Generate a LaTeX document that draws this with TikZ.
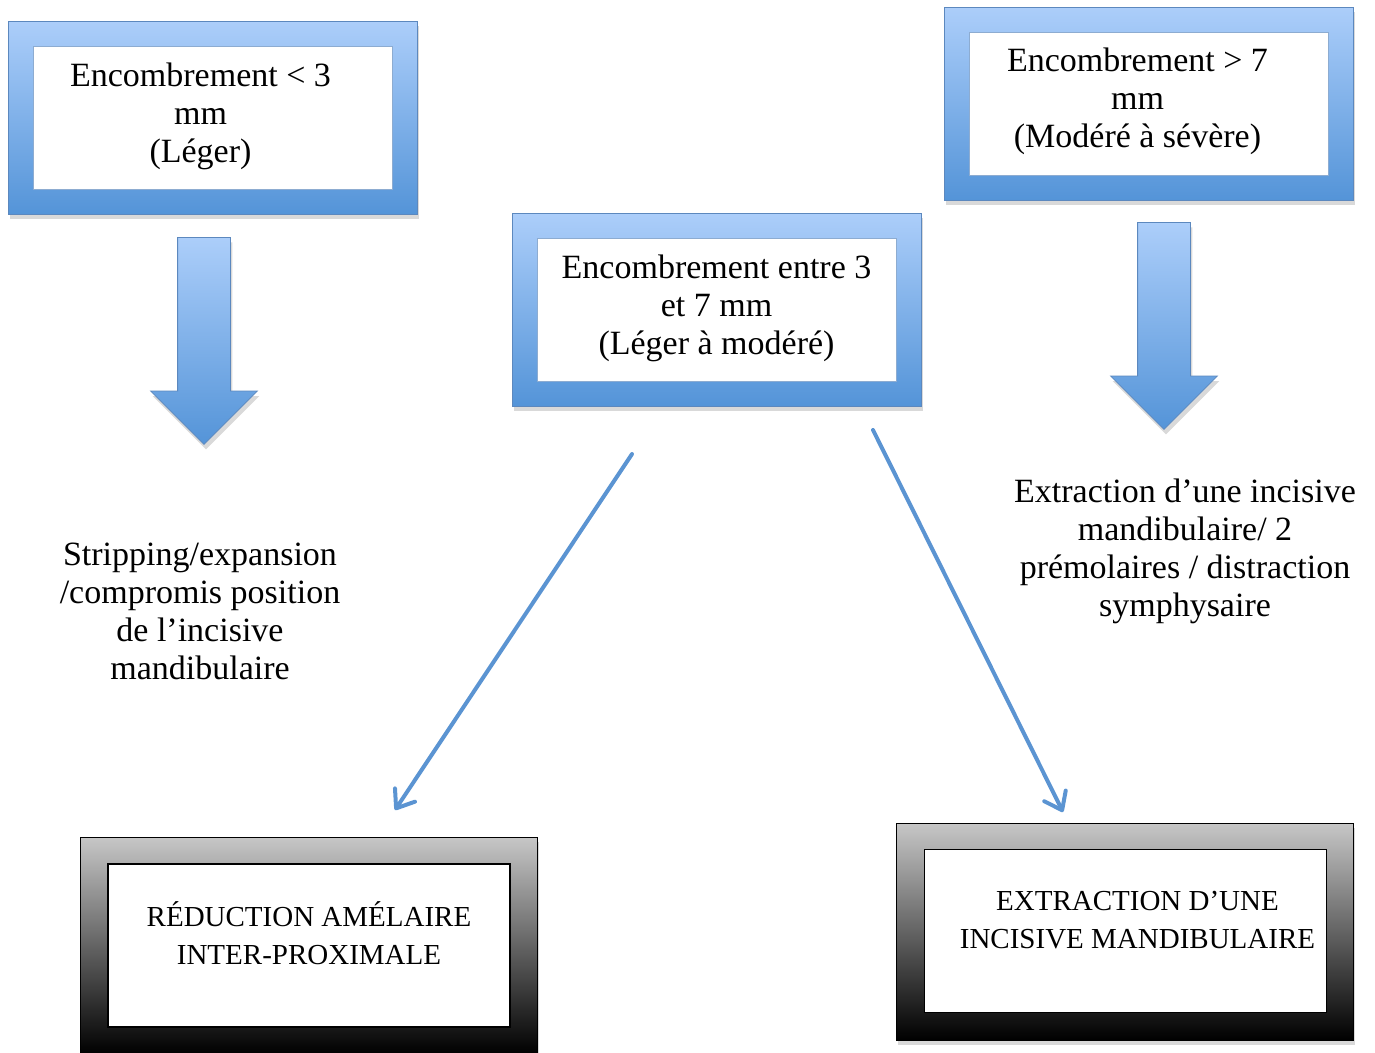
\documentclass[tikz,border=0pt]{standalone}
\usepackage{fontspec}
\setmainfont{Liberation Serif}
\usetikzlibrary{arrows.meta,shapes.arrows,shadows}

\definecolor{skytop}{RGB}{172,206,250}
\definecolor{skybot}{RGB}{84,148,216}
\definecolor{skyline}{RGB}{92,136,190}
\definecolor{pinline}{RGB}{91,148,210}

\tikzset{
 softshadow/.style={drop shadow={shadow xshift=2pt,shadow yshift=-5pt,opacity=0.3}},
 bluebox/.style={rectangle, inner sep=0pt, minimum width=409pt, minimum height=193pt,
   top color=skytop, bottom color=skybot, draw=skyline, line width=0.8pt, softshadow},
 bluein/.style={rectangle, inner sep=0pt, minimum width=359pt, minimum height=143pt,
   fill=white, draw=skyline!70, line width=1pt},
 graybox/.style={rectangle, inner sep=0pt, minimum width=457pt, minimum height=217pt,
   top color=black!22, middle color=black!62, bottom color=black, draw=black, line width=1pt, softshadow},
 grayin/.style={rectangle, inner sep=0pt, minimum width=402pt, minimum height=163pt,
   fill=white, draw=black, line width=1.5pt},
 boxtext/.style={align=center, inner sep=0pt, font=\fontsize{34}{38}\selectfont},
 captext/.style={align=center, inner sep=0pt, font=\fontsize{29}{38}\selectfont},
 fatarrow/.style={single arrow, shape border rotate=270, anchor=tail, inner sep=26pt,
   minimum height=207pt, single arrow head extend=27pt,
   single arrow head indent=0pt, top color=skytop, bottom color=skybot,
   draw=skyline, line width=0.8pt, softshadow},
 thinarrow/.style={draw=pinline, line width=4pt, line cap=round,
   -{Straight Barb[length=16pt,width=24pt,round]}}
}

\begin{document}
\begin{tikzpicture}[x=1pt,y=-1pt]
 \useasboundingbox (0,0) rectangle (1375,1052);

 \node[bluebox] (low) at (212.5,117.5) {};
 \node[bluein] (lowin) at (low.center) {};
 \node[boxtext] (lowtxt) at ([xshift=-12pt,yshift=1pt]lowin.center)
  {Encombrement < 3\\mm\\(Léger)};

 \node[bluebox] (mid) at (716.5,309.5) {};
 \node[bluein] (midin) at (mid.center) {};
 \node[boxtext] (midtxt) at ([yshift=1pt]midin.center)
  {Encombrement entre 3\\et 7 mm\\(Léger à modéré)};

 \node[bluebox] (high) at (1148.5,103.5) {};
 \node[bluein] (highin) at (high.center) {};
 \node[boxtext] (hightxt) at ([xshift=-11pt,yshift=2pt]highin.center)
  {Encombrement > 7\\mm\\(Modéré à sévère)};

 \node[fatarrow] (lowarrow) at (204,237) {};
 \node[fatarrow] (higharrow) at (1164,222) {};

 \node[boxtext] (lowcare) at (200,611.5)
  {Stripping/expansion\\/compromis position\\de l’incisive\\mandibulaire};
 \node[boxtext] (highcare) at (1185,551)
  {Extraction d’une incisive\\mandibulaire/ 2\\prémolaires / distraction\\symphysaire};

 \node[graybox] (rim) at (308.5,945.5) {};
 \node[grayin] (rimin) at (309,945.5) {};
 \node[captext] (rimtxt) at ([yshift=12pt]rimin.center)
  {RÉDUCTION AMÉLAIRE\\INTER-PROXIMALE};

 \node[graybox] (cut) at (1124.5,931.5) {};
 \node[grayin] (cutin) at (1125.5,931) {};
 \node[captext] (cuttxt) at ([xshift=12pt,yshift=11pt]cutin.center)
  {EXTRACTION D’UNE\\INCISIVE MANDIBULAIRE};

 \coordinate (rimfrom) at (632,454);
 \coordinate (rimto) at (395,810);
 \coordinate (cutfrom) at (873,430);
 \coordinate (cutto) at (1063,812);
 \draw[thinarrow] (rimfrom) -- (rimto);
 \draw[thinarrow] (cutfrom) -- (cutto);
\end{tikzpicture}
\end{document}
